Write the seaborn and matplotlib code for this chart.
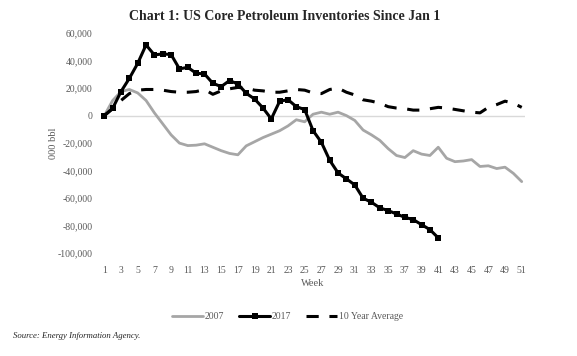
import numpy as np
import pandas as pd
import matplotlib
matplotlib.use("Agg")
import matplotlib.pyplot as plt
import seaborn as sns

sns.set_style("white")
plt.rcParams['font.family'] = ['Liberation Serif', 'DejaVu Serif']

weeks_2007 = list(range(1, 52))
inv_2007 = [0, 11000, 17500, 19000, 16500, 11000, 2000, -6000, -14000, -20000,
            -21800, -21500, -20500, -23000, -25500, -27500, -28500, -22000, -19000, -16000,
            -13500, -11000, -7500, -3000, -4500, 1000, 2500, 1000, 2500, 0,
            -3500, -10500, -14000, -18000, -24000, -29000, -30500, -25500, -28000, -29000,
            -23000, -31000, -33500, -33000, -32000, -37000, -36500, -38500, -37500, -42000,
            -48000]

weeks_2017 = list(range(1, 42))
inv_2017 = [0, 5300, 17500, 27100, 38000, 51400, 44100, 44900, 44400, 34000,
            35100, 30800, 30300, 23500, 21100, 25500, 23000, 16200, 12100, 5600,
            -2400, 10400, 11600, 6500, 4400, -10900, -19400, -32500, -41700, -46000,
            -50400, -60100, -63000, -67100, -69100, -71500, -74000, -75600, -79300, -82900,
            -88900]

weeks_avg = list(range(1, 52))
inv_avg = [0, 5000, 11000, 16000, 18500, 19000, 19000, 18500, 17500, 17000,
           17000, 17500, 19000, 15500, 18000, 19500, 20500, 20000, 18500, 18000,
           17000, 17000, 18000, 19000, 18500, 16500, 16000, 19000, 20000, 17000,
           15000, 11500, 10500, 9000, 6500, 5500, 5000, 4000, 4000, 5000,
           6000, 5500, 4500, 3500, 2500, 2000, 6000, 8000, 10500, 9000,
           6000]

y_ticks = [60000, 40000, 20000, 0, -20000, -40000, -60000, -80000, -100000]
x_ticks = list(range(1, 52, 2))

fig = plt.figure(figsize=(5.77, 3.56), dpi=100)
ax = fig.add_axes([0.175, 0.289, 0.735, 0.618])

ax.axhline(0, color='#d9d9d9', lw=1, zorder=0)

sns.lineplot(x=weeks_2007, y=inv_2007, ax=ax, color='#a6a6a6', lw=2.0, label='2007')
sns.lineplot(x=weeks_2017, y=inv_2017, ax=ax, color='black', lw=2.2,
             marker='s', markersize=4.5, markeredgewidth=0, label='2017')
sns.lineplot(x=weeks_avg, y=inv_avg, ax=ax, color='black', lw=2.2,
             dashes=False, label='10 Year Average')
ax.lines[-1].set_dashes([4, 3.5])

ax.set_xlim(0.6, 51.4)
ax.set_ylim(-100000, 60000)
ax.set_xticks(x_ticks)
ax.set_xticklabels([str(w) for w in x_ticks])
ax.set_yticks(y_ticks)
ax.set_yticklabels(['{:,}'.format(v) for v in y_ticks])
ax.tick_params(axis='both', length=0, labelsize=7, colors='#595959')
ax.tick_params(axis='x', pad=9)
ax.tick_params(axis='y', pad=6)
sns.despine(ax=ax, left=True, bottom=True)

ax.set_xlabel('Week', fontsize=7.5, color='#595959', labelpad=3)
ax.set_ylabel('000 bbl', fontsize=7.5, color='#595959', labelpad=0)

fig.text(0.494, 0.955, 'Chart 1: US Core Petroleum Inventories Since Jan 1',
         ha='center', va='center', fontsize=10, fontweight='bold')

leg = ax.legend(loc='upper center', bbox_to_anchor=(0.44, -0.23), ncol=3,
                frameon=False, fontsize=7, handlelength=3.2, columnspacing=1.5,
                handletextpad=0.2)
for t in leg.get_texts():
    t.set_color('#595959')
leg.get_lines()[2].set_dashes([4, 3.5])

fig.text(0.022, 0.057, 'Source: Energy Information Agency.', fontsize=6.3,
         style='italic', ha='left', va='center')

fig.savefig('out.png', dpi=100)
